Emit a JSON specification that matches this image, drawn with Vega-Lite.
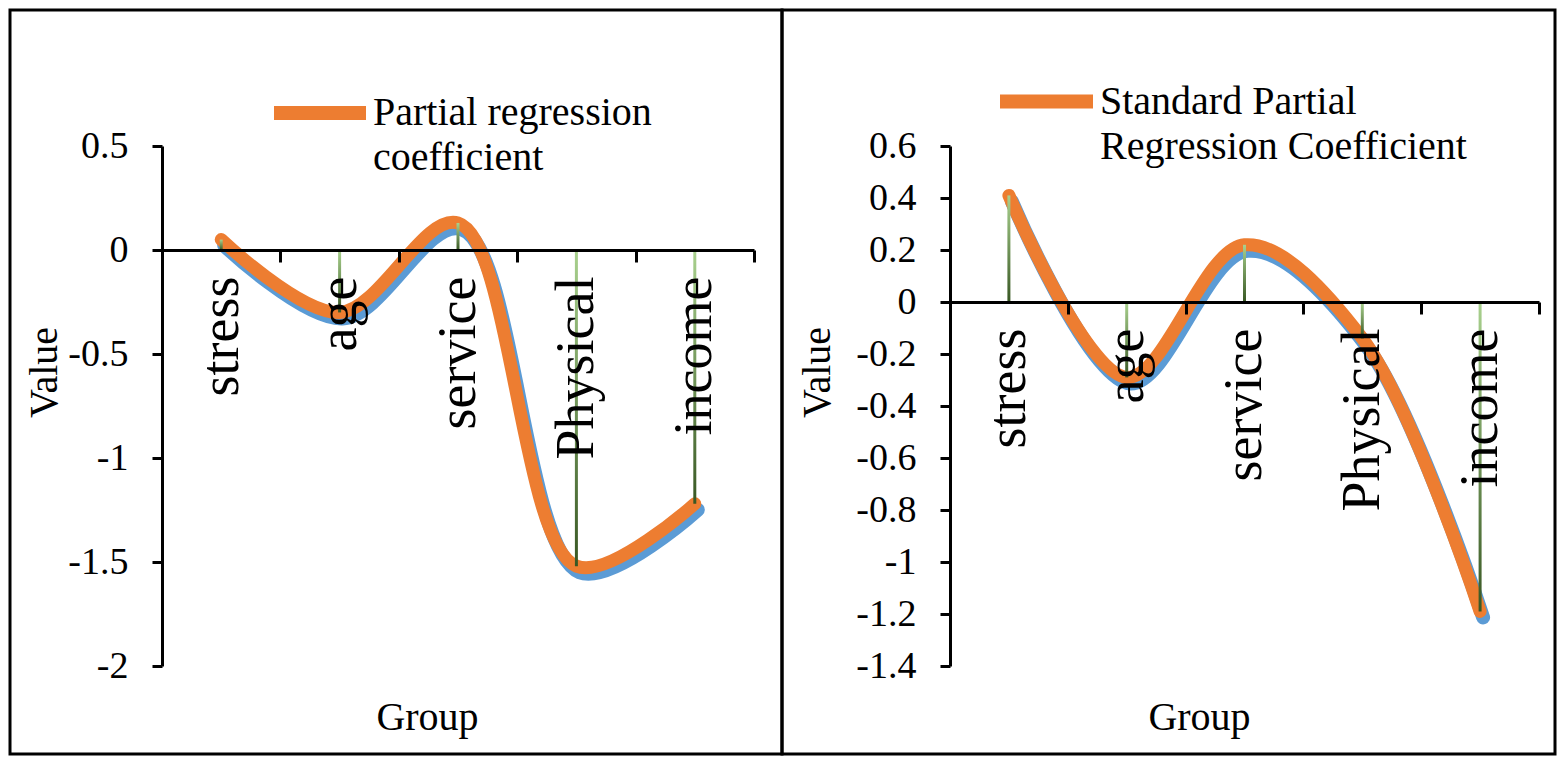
{
  "$schema": "https://vega.github.io/schema/vega-lite/v6.json",
  "background": "white",
  "padding": {"left": -19, "top": 8, "right": 6, "bottom": 8},
  "spacing": 0,
  "bounds": "flush",
  "config": {
    "view": {"stroke": "black", "strokeWidth": 3},
    "font": "Liberation Serif",
    "axis": {"labelFont": "Liberation Serif", "titleFont": "Liberation Serif", "labelColor": "black", "titleColor": "black", "domainColor": "black", "tickColor": "black", "domainWidth": 3, "tickWidth": 3, "grid": false, "titleFontWeight": "normal", "labelLimit": 0},
    "legend": {"labelFont": "Liberation Serif", "labelColor": "black"}
  },
  "resolve": {"scale": {"color": "independent", "x": "independent", "y": "independent"}, "legend": {"color": "independent"}},
  "hconcat": [
    {
      "width": 772,
      "height": 744,
      "data": {"values": [
        {"g": "stress", "v": 0.05, "s": "Partial regression|coefficient"},
        {"g": "age", "v": -0.30, "s": "Partial regression|coefficient"},
        {"g": "service", "v": 0.13, "s": "Partial regression|coefficient"},
        {"g": "Physical", "v": -1.52, "s": "Partial regression|coefficient"},
        {"g": "income", "v": -1.22, "s": "Partial regression|coefficient"}
      ]},
      "encoding": {
        "x": {"field": "g", "type": "nominal", "sort": null,
          "scale": {"range": [152, 744], "paddingInner": 0, "paddingOuter": 0},
          "axis": {"offset": -504, "tickBand": "extent", "tickSize": 12, "labelAngle": -90, "labelAlign": "right", "labelBaseline": "middle", "labelPadding": 14, "labelFontSize": 54, "labelLimit": 0, "title": "Group", "titleFontSize": 40, "titleX": 417, "titleY": 467, "titleBaseline": "middle", "titleAlign": "center", "zindex": 1}},
        "y": {"field": "v", "type": "quantitative",
          "scale": {"domain": [-2, 0.5], "range": [656, 136], "nice": false, "zero": false},
          "axis": {"offset": -152, "values": [-2, -1.5, -1, -0.5, 0, 0.5], "labelExpr": "toString(datum.value)", "tickSize": 10, "labelPadding": 24, "labelFontSize": 38, "title": "Value", "titleFontSize": 40, "titleX": -118, "titleY": 362, "titleAngle": -90, "titleBaseline": "middle", "titleAlign": "center"}}
      },
      "layer": [
        {"mark": {"type": "line", "interpolate": "catmull-rom", "strokeWidth": 14, "strokeCap": "round", "color": "#5b9bd5", "xOffset": 3, "yOffset": 6}},
        {"mark": {"type": "line", "interpolate": "catmull-rom", "strokeWidth": 13, "strokeCap": "round"},
          "encoding": {"color": {"field": "s", "type": "nominal", "scale": {"range": ["#ed7d31"]},
            "legend": {"orient": "none", "legendX": 257, "legendY": 50, "title": null, "symbolType": "stroke", "symbolSize": 8464, "symbolStrokeWidth": 14, "labelFontSize": 40, "labelOffset": 0, "labelLimit": 0, "labelExpr": "split(datum.label, '|')",
              "encode": {"labels": {"update": {"lineHeight": {"value": 45}}}}}}}},
        {"mark": {"type": "bar", "size": 3, "color": {"gradient": "linear", "x1": 0, "y1": 0, "x2": 0, "y2": 1, "stops": [{"offset": 0, "color": "#a9d18e"}, {"offset": 1, "color": "#385723"}]}},
          "encoding": {"y2": {"datum": 0}}}
      ]
    },
    {
      "width": 773,
      "height": 744,
      "data": {"values": [
        {"g": "stress", "v": 0.41, "s": "Standard Partial|Regression Coefficient"},
        {"g": "age", "v": -0.29, "s": "Standard Partial|Regression Coefficient"},
        {"g": "service", "v": 0.22, "s": "Standard Partial|Regression Coefficient"},
        {"g": "Physical", "v": -0.14, "s": "Standard Partial|Regression Coefficient"},
        {"g": "income", "v": -1.19, "s": "Standard Partial|Regression Coefficient"}
      ]},
      "encoding": {
        "x": {"field": "g", "type": "nominal", "sort": null,
          "scale": {"range": [168, 757], "paddingInner": 0, "paddingOuter": 0},
          "axis": {"offset": -452, "tickBand": "extent", "tickSize": 12, "labelAngle": -90, "labelAlign": "right", "labelBaseline": "middle", "labelPadding": 14, "labelFontSize": 54, "labelLimit": 0, "title": "Group", "titleFontSize": 40, "titleX": 417, "titleY": 415, "titleBaseline": "middle", "titleAlign": "center", "zindex": 1}},
        "y": {"field": "v", "type": "quantitative",
          "scale": {"domain": [-1.4, 0.6], "range": [656, 136], "nice": false, "zero": false},
          "axis": {"offset": -168, "values": [-1.4, -1.2, -1, -0.8, -0.6, -0.4, -0.2, 0, 0.2, 0.4, 0.6], "labelExpr": "toString(datum.value)", "tickSize": 10, "labelPadding": 24, "labelFontSize": 38, "title": "Value", "titleFontSize": 40, "titleX": -133, "titleY": 362, "titleAngle": -90, "titleBaseline": "middle", "titleAlign": "center"}}
      },
      "layer": [
        {"mark": {"type": "line", "interpolate": "catmull-rom", "strokeWidth": 14, "strokeCap": "round", "color": "#5b9bd5", "xOffset": 3, "yOffset": 6}},
        {"mark": {"type": "line", "interpolate": "catmull-rom", "strokeWidth": 13, "strokeCap": "round"},
          "encoding": {"color": {"field": "s", "type": "nominal", "scale": {"range": ["#ed7d31"]},
            "legend": {"orient": "none", "legendX": 211, "legendY": 38, "title": null, "symbolType": "stroke", "symbolSize": 8649, "symbolStrokeWidth": 14, "labelFontSize": 40, "labelOffset": 0, "labelLimit": 0, "labelExpr": "split(datum.label, '|')",
              "encode": {"labels": {"update": {"lineHeight": {"value": 45}}}}}}}},
        {"mark": {"type": "bar", "size": 3, "color": {"gradient": "linear", "x1": 0, "y1": 0, "x2": 0, "y2": 1, "stops": [{"offset": 0, "color": "#a9d18e"}, {"offset": 1, "color": "#385723"}]}},
          "encoding": {"y2": {"datum": 0}}}
      ]
    }
  ]
}
